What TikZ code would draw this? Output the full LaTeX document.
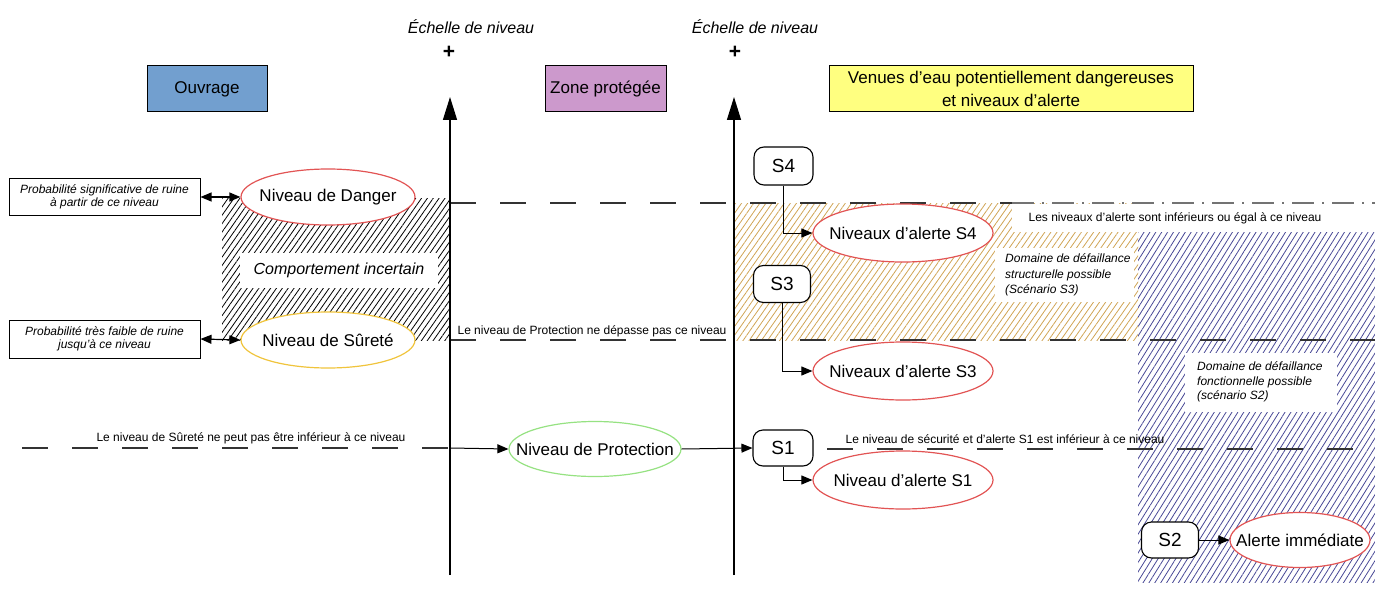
\documentclass[tikz,border=0pt]{standalone}
\usepackage{fontspec}
\setmainfont{Liberation Sans}
\usetikzlibrary{shapes.geometric,patterns.meta,arrows.meta}
\definecolor{ouvblue}{RGB}{114,159,207}
\definecolor{zonepink}{RGB}{204,153,204}
\definecolor{venyellow}{RGB}{255,255,128}
\definecolor{redline}{RGB}{226,84,84}
\definecolor{goldline}{RGB}{240,196,60}
\definecolor{greenline}{RGB}{150,226,130}
\definecolor{tanhatch}{RGB}{208,164,84}
\definecolor{bluehatch}{RGB}{72,72,150}
\newcommand{\zw}[1]{\makebox[0pt]{#1}}
\begin{document}
\begin{tikzpicture}[x=1pt,y=-1pt,
  big/.style={font=\fontsize{17}{23}\selectfont},
  smallr/.style={font=\fontsize{12}{14}\selectfont},
  titlebox/.style={draw=black, line width=1pt, minimum height=46pt, inner sep=0pt, big},
  infobox/.style={draw=black, line width=1pt, fill=white, inner sep=0pt, align=center, font=\fontsize{12}{13.5}\selectfont\itshape},
  ell/.style={ellipse, draw, line width=1.2pt, fill=white, inner sep=0pt, big},
  sbox/.style={draw=black, rounded corners=10pt, line width=1.1pt, fill=white, inner sep=0pt, font=\fontsize{19}{23}\selectfont},
  lvl/.style={draw=black!80, line width=1.3pt, dash pattern=on 26pt off 24pt},
  conn/.style={line width=1pt, -{Triangle[length=11pt,width=9pt]}},
  dconn/.style={line width=1.2pt, {Triangle[length=11pt,width=9pt]}-{Triangle[length=11pt,width=9pt]}},
  axis/.style={line width=1.4pt, -{Triangle[length=23pt,width=14pt]}},
  blackhatch/.style={pattern={Lines[angle=55,distance=4.8pt,line width=0.8pt]}, pattern color=black},
  tanhatchst/.style={pattern={Lines[angle=55,distance=5pt,line width=0.8pt]}, pattern color=tanhatch},
  bluehatchst/.style={pattern={Lines[angle=58,distance=5pt,line width=0.8pt]}, pattern color=bluehatch},
  ]
\useasboundingbox (0,0) rectangle (1375,591);

% hatched zones
\fill[blackhatch] (222,198) rectangle (450,340);
\fill[tanhatchst] (735,203) rectangle (1138,340);
\fill[bluehatchst] (1138,232) rectangle (1375,582);

% white backgrounds for texts
\fill[white] (1012,204) rectangle (1375,232);
\fill[white] (240,253) rectangle (438,288);
\fill[white] (995,248) rectangle (1134,302);
\fill[white] (1185,353) rectangle (1337,412);

% level lines
\coordinate (l1a) at (450,203);
\coordinate (l1b) at (1012,203);
\coordinate (l1c) at (1375,203);
\coordinate (l2a) at (450,340);
\coordinate (l2b) at (1375,340);
\coordinate (l3a) at (22,448);
\coordinate (l3b) at (450,448);
\coordinate (l4a) at (827,449);
\coordinate (l4b) at (1375,449);
\draw[lvl] (l1a) -- (l1b);
\draw[draw=black!55, line width=1.2pt, dash pattern=on 22pt off 8pt on 2pt off 8pt] (l1b) -- (l1c);
\draw[lvl] (l2a) -- (l2b);
\draw[lvl] (l3a) -- (l3b);
\draw[lvl] (l4a) -- (l4b);

% axes
\coordinate (a1b) at (450,575);
\coordinate (a1t) at (450,97);
\coordinate (a2b) at (734,575);
\coordinate (a2t) at (734,97);
\draw[axis] (a1b) -- (a1t);
\draw[axis] (a2b) -- (a2t);
\node[font=\fontsize{16}{18}\selectfont\itshape] (ech1) at (471,27) {Échelle de niveau};
\node[font=\fontsize{21}{22}\selectfont\bfseries] (plus1) at (449,52) {+};
\node[font=\fontsize{16}{18}\selectfont\itshape] (ech2) at (755,27) {Échelle de niveau};
\node[font=\fontsize{21}{22}\selectfont\bfseries] (plus2) at (735,52) {+};

% title boxes
\node[titlebox, fill=ouvblue, minimum width=120pt] (ouv) at (207,89) {Ouvrage};
\node[titlebox, fill=zonepink, minimum width=121pt] (zone) at (605.5,89) {Zone protégée};
\node[titlebox, fill=venyellow, minimum width=364pt, align=center] (ven) at (1011,89) {Venues d’eau potentiellement dangereuses\\et niveaux d’alerte};

% left info boxes
\node[infobox, minimum width=191pt, minimum height=37pt] (pb1) at (104.5,197) {Probabilité significative de ruine\\à partir de ce niveau};
\node[infobox, minimum width=191pt, minimum height=38pt] (pb2) at (104.5,339) {Probabilité très faible de ruine\\jusqu’à ce niveau};

% ellipses
\node[ell, draw=redline, minimum width=174pt, minimum height=56pt] (danger) at (328,197) {\zw{Niveau de Danger}};
\node[ell, draw=goldline, minimum width=174pt, minimum height=56pt] (surete) at (328,340) {\zw{Niveau de Sûreté}};
\node[ell, draw=greenline, minimum width=172pt, minimum height=55pt] (prot) at (595,449) {\zw{Niveau de Protection}};
\node[ell, draw=redline, minimum width=180pt, minimum height=58pt] (al4) at (903,233) {\zw{Niveaux d’alerte S4}};
\node[ell, draw=redline, minimum width=180pt, minimum height=58pt] (al3) at (903,371) {\zw{Niveaux d’alerte S3}};
\node[ell, draw=redline, minimum width=180pt, minimum height=58pt] (al1) at (903,480) {\zw{Niveau d’alerte S1}};
\node[ell, draw=redline, minimum width=140pt, minimum height=55pt] (ali) at (1300,540) {\zw{Alerte immédiate}};

% scenario boxes
\node[sbox, minimum width=59pt, minimum height=38pt] (s4) at (783.5,166) {S4};
\node[sbox, minimum width=57pt, minimum height=37pt] (s3) at (782,284) {S3};
\node[sbox, minimum width=60pt, minimum height=36pt] (s1) at (783,448) {S1};
\node[sbox, minimum width=57pt, minimum height=36pt] (s2) at (1170,540) {S2};

% connectors
\draw[dconn] (pb1.east) -- (danger.west);
\draw[dconn] (pb2.east) -- (surete.west);
\draw[conn] (l3b) -- (prot.west);
\draw[conn] (prot.east) -- (s1.west);
\draw[conn] (s4.south) |- (al4.west);
\draw[conn] (s3.south) |- (al3.west);
\draw[conn] (s1.south) |- (al1.west);
\draw[conn] (s2.east) -- (ali.west);

% texts
\node[font=\fontsize{16}{18}\selectfont\itshape] (comp) at (339,270.5) {Comportement incertain};
\node[smallr] (t1) at (251,438) {Le niveau de Sûreté ne peut pas être inférieur à ce niveau};
\node[smallr] (t2) at (592,331) {Le niveau de Protection ne dépasse pas ce niveau};
\node[smallr] (t3) at (1005,439) {Le niveau de sécurité et d’alerte S1 est inférieur à ce niveau};
\node[smallr] (t4) at (1175,218) {Les niveaux d’alerte sont inférieurs ou égal à ce niveau};
\node[font=\fontsize{12}{15.5}\selectfont\itshape, align=left, anchor=west, inner sep=0pt] (dom3) at (1005,275) {Domaine de défaillance\\structurelle possible\\(Scénario S3)};
\node[font=\fontsize{12}{14.5}\selectfont\itshape, align=left, anchor=west, inner sep=0pt] (dom2) at (1197,382) {Domaine de défaillance\\fonctionnelle possible\\(scénario S2)};
\end{tikzpicture}
\end{document}
